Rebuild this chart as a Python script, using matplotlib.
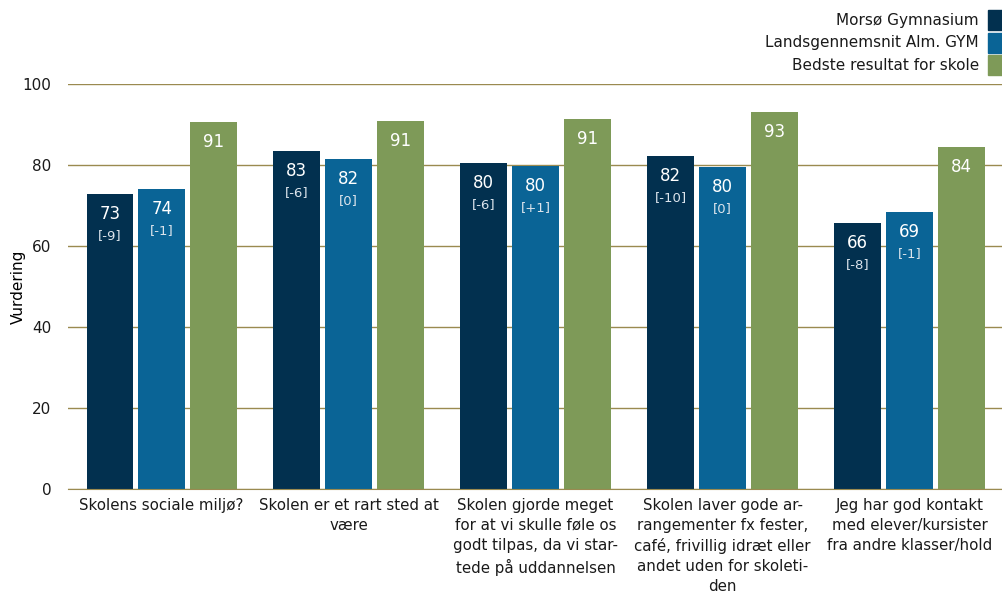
import matplotlib.pyplot as plt
import numpy as np

# Data
kategorier = [
    "Skolens sociale miljø?",
    "Skolen er et rart sted at\nvære",
    "Skolen gjorde meget\nfor at vi skulle føle os\ngodt tilpas, da vi star-\ntede på uddannelsen",
    "Skolen laver gode ar-\nrangementer fx fester,\ncafé, frivillig idræt eller\nandet uden for skoleti-\nden",
    "Jeg har god kontakt\nmed elever/kursister\nfra andre klasser/hold",
]
serier = ["Morsø Gymnasium", "Landsgennemsnit Alm. GYM", "Bedste resultat for skole"]
morsoe = [72.8, 83.5, 80.5, 82.2, 65.7]
lands = [74.1, 81.5, 79.8, 79.5, 68.4]
bedste = [90.6, 90.9, 91.4, 93.1, 84.4]
morsoe_tekst = ["73", "83", "80", "82", "66"]
lands_tekst = ["74", "82", "80", "80", "69"]
bedste_tekst = ["91", "91", "91", "93", "84"]
morsoe_diff = ["[-9]", "[-6]", "[-6]", "[-10]", "[-8]"]
lands_diff = ["[-1]", "[0]", "[+1]", "[0]", "[-1]"]

farver = ["#02304F", "#0A6496", "#7E9A58"]
grid_farve = "#9A8A50"

fig = plt.figure(figsize=(10.03, 5.96), dpi=100)
ax = fig.add_axes([0.068, 0.179, 0.932, 0.68])

x = np.arange(len(kategorier))
bredde = 0.25
afstand = 0.027
pos = [x - bredde - afstand, x, x + bredde + afstand]

for i, vaerdier in enumerate([morsoe, lands, bedste]):
    ax.bar(pos[i], vaerdier, width=bredde, color=farver[i], zorder=2)

# Labels inde i bjælkerne
for j in range(len(kategorier)):
    for i, (vaerdier, tekst, diff) in enumerate([
        (morsoe, morsoe_tekst, morsoe_diff),
        (lands, lands_tekst, lands_diff),
        (bedste, bedste_tekst, None),
    ]):
        ax.annotate(tekst[j], (pos[i][j], vaerdier[j]), xytext=(0, -14.5),
                    textcoords="offset points", ha="center", va="center",
                    color="white", fontsize=12, zorder=3)
        if diff is not None:
            ax.annotate(diff[j], (pos[i][j], vaerdier[j]), xytext=(0, -30),
                        textcoords="offset points", ha="center", va="center",
                        color="#DCE4EC", fontsize=9.5, zorder=3)

ax.set_xlim(-0.5, 4.5)
ax.set_ylim(0, 100)
ax.set_yticks([0, 20, 40, 60, 80, 100])
ax.yaxis.grid(True, color=grid_farve, linewidth=1, zorder=0)
ax.set_axisbelow(True)
for s in ["top", "right", "left"]:
    ax.spines[s].set_visible(False)
ax.spines["bottom"].set_color(grid_farve)
ax.tick_params(axis="both", length=0, labelsize=11, colors="#1A1A1A")
ax.tick_params(axis="y", pad=12)
ax.tick_params(axis="x", pad=6)
ax.set_xticks(x)
ax.set_xticklabels(kategorier, fontsize=10.8, linespacing=1.42, va="top")
ax.set_ylabel("Vurdering", fontsize=11)
ax.yaxis.set_label_coords(-42 / 935, 0.5)

# Legende øverst til højre
for k, navn in enumerate(serier):
    ytop = 1 - (10 + k * 22.5) / 596
    fig.text(1 - 24 / 1003, ytop - 10 / 596, navn, ha="right", va="center",
             fontsize=11, color="#1A1A1A")
    fig.patches.append(plt.Rectangle((1 - 15 / 1003, ytop - 20 / 596), 15 / 1003, 20 / 596,
                                     transform=fig.transFigure, color=farver[k]))

fig.savefig("out.png", dpi=100)
